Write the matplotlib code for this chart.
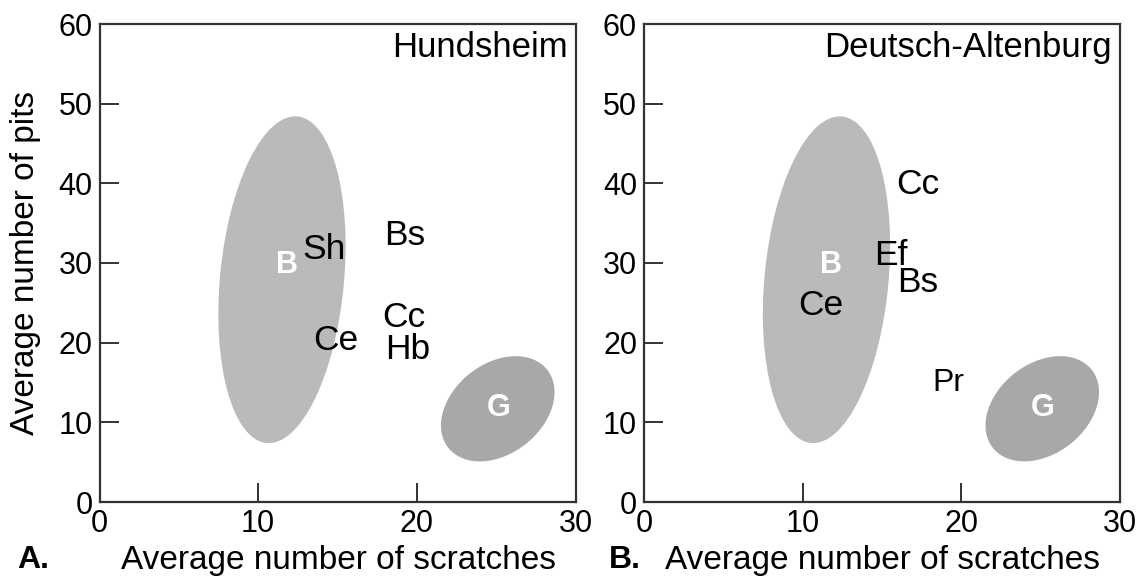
import matplotlib
matplotlib.use("Agg")
import matplotlib.pyplot as plt
from matplotlib.patches import Ellipse
from matplotlib.transforms import ScaledTranslation

plt.rcParams["font.family"] = ["Liberation Sans", "DejaVu Sans"]

# grazing / browsing reference ellipses (same in both panels)
GROUPS = ["B", "G"]
GROUP_X = [11.5, 25.1]
GROUP_Y = [27.9, 11.7]
GROUP_LABEL_X = [11.8, 25.15]
GROUP_LABEL_Y = [29.7, 11.8]
GROUP_WIDTH_IN = [1.24, 1.26]
GROUP_HEIGHT_IN = [3.28, 0.90]
GROUP_ANGLE = [-5.4, 38.2]
GROUP_COLOR = ["#bababa", "#a8a8a8"]

# Hundsheim taxa
HUND_TAXA = ["Sh", "Bs", "Cc", "Hb", "Ce"]
HUND_X = [14.15, 19.25, 19.16, 19.45, 14.89]
HUND_Y = [31.7, 33.5, 23.1, 19.1, 20.3]

# Deutsch-Altenburg taxa
DA_TAXA = ["Cc", "Ef", "Bs", "Ce", "Pr"]
DA_X = [17.29, 15.55, 17.27, 11.17, 19.2]
DA_Y = [39.8, 30.9, 27.55, 24.7, 14.9]

X_TICKS = [0, 10, 20, 30]
Y_TICKS = [0, 10, 20, 30, 40, 50, 60]


def draw_panel(fig, ax, site, taxa, xs, ys, letter, letter_x, ylabel):
    for i, g in enumerate(GROUPS):
        tr = fig.dpi_scale_trans + ScaledTranslation(GROUP_X[i], GROUP_Y[i], ax.transData)
        ax.add_patch(Ellipse((0, 0), GROUP_WIDTH_IN[i], GROUP_HEIGHT_IN[i],
                             angle=GROUP_ANGLE[i], transform=tr,
                             facecolor=GROUP_COLOR[i], edgecolor="none", zorder=1))
        ax.text(GROUP_LABEL_X[i], GROUP_LABEL_Y[i], g, color="white",
                fontsize=22, fontweight="bold", ha="center", va="center", zorder=3)
    for t, x, y in zip(taxa, xs, ys):
        size = 23 if t == "Pr" else 25.5
        ax.text(x, y, t, fontsize=size, ha="center", va="center", zorder=3)

    ax.text(0.983, 0.9316, site, transform=ax.transAxes, fontsize=25,
            ha="right", va="baseline")

    ax.set_xlim(0, 30)
    ax.set_ylim(0, 60)
    ax.set_xticks(X_TICKS)
    ax.set_yticks(Y_TICKS)
    ax.tick_params(direction="in", length=14, width=1.3, labelsize=22,
                   color="#222222", pad=5)
    for sp in ax.spines.values():
        sp.set_linewidth(1.6)
        sp.set_color("#333333")
    ax.set_xlabel("Average number of scratches", fontsize=24)
    ax.xaxis.set_label_coords(0.502, -0.09)
    if ylabel:
        ax.set_ylabel("Average number of pits", fontsize=24)
        ax.yaxis.set_label_coords(-0.122, 0.5)
    fig.text(letter_x, 0.043, letter, fontsize=23, fontweight="bold",
             ha="left", va="center")


def main():
    fig = plt.figure(figsize=(11.42, 5.85), dpi=100)
    ax_a = fig.add_axes([99.5 / 1142, 83 / 585, 476 / 1142, 478 / 585])
    ax_b = fig.add_axes([644 / 1142, 83 / 585, 476 / 1142, 478 / 585])

    draw_panel(fig, ax_a, "Hundsheim", HUND_TAXA, HUND_X, HUND_Y, "A.", 17 / 1142, True)
    draw_panel(fig, ax_b, "Deutsch-Altenburg", DA_TAXA, DA_X, DA_Y, "B.", 609 / 1142, False)

    fig.savefig("out.png", dpi=100)
    plt.close(fig)


if __name__ == "__main__":
    main()
